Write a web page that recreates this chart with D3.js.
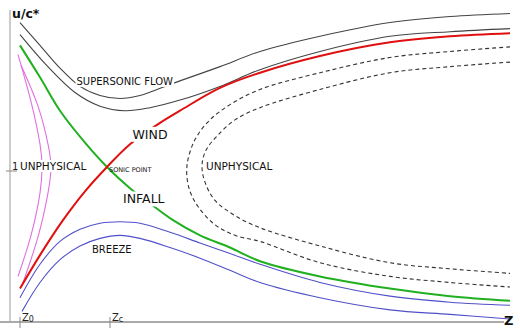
<!DOCTYPE html>
<html><head><meta charset="utf-8">
<script src="https://cdn.jsdelivr.net/npm/d3@7"></script>
<style>body{margin:0;background:#fff}svg{display:block}</style>
</head><body><svg id="c" width="520" height="328"></svg>
<script>
// z (Zc = 2) and u/c* (sonic = 1)
const superOuter = [[0.2,1.97],[0.6,1.82],[1.0,1.67],[1.4,1.55],[1.8,1.49],[2.2,1.47],[2.6,1.49],[3.26,1.57],[4.2,1.68],[5.0,1.78],[6.2,1.88],[7.6,1.97],[8.8,2.01],[10,2.03]];
const superInner = [[0.2,1.89],[0.7,1.70],[1.3,1.51],[1.8,1.42],[2.3,1.39],[2.8,1.41],[3.4,1.46],[4.2,1.55],[5.0,1.66],[6.2,1.78],[7.6,1.88],[8.8,1.91],[10,1.93]];
const wind = [[0.2,0.22],[0.6,0.44],[1.06,0.67],[1.5,0.86],[1.94,1.02],[2.4,1.17],[3.0,1.31],[3.4,1.39],[4.2,1.54],[5.0,1.64],[6.2,1.75],[7.6,1.84],[8.8,1.88],[10,1.90]];
const infall = [[0.2,1.82],[0.6,1.61],[1.0,1.39],[1.5,1.18],[1.94,1.02],[2.4,0.88],[2.8,0.78],[3.26,0.67],[3.8,0.57],[4.4,0.49],[5.0,0.40],[6.2,0.30],[7.6,0.22],[8.8,0.17],[10,0.14]];
const breezeOuter = [[0.2,0.16],[0.6,0.38],[1.0,0.53],[1.4,0.61],[1.8,0.65],[2.2,0.66],[2.6,0.65],[3.2,0.59],[3.8,0.52],[4.4,0.45],[5.0,0.38],[6.2,0.26],[7.6,0.17],[8.8,0.13],[10,0.11]];
const breezeInner = [[0.24,0.07],[0.6,0.26],[1.0,0.41],[1.4,0.50],[1.8,0.55],[2.2,0.57],[2.6,0.55],[3.2,0.49],[3.8,0.42],[4.4,0.34],[5.0,0.26],[6.2,0.16],[7.6,0.08],[8.8,0.05],[10,0.02]];
const unphysLeftOuter = [[0.16,1.76],[0.42,1.45],[0.6,1.17],[0.64,1.02],[0.6,0.85],[0.42,0.57],[0.16,0.30]];
const unphysLeftInner = [[0.22,1.69],[0.56,1.42],[0.76,1.17],[0.82,1.02],[0.76,0.85],[0.56,0.56],[0.24,0.24]];
const unphysRightOuter = [[10,1.81],[8.8,1.78],[7.6,1.74],[6.2,1.64],[5.0,1.53],[4.4,1.43],[4.0,1.33],[3.7,1.20],[3.54,1.03],[3.58,0.88],[3.76,0.76],[4.1,0.64],[4.5,0.57],[5.0,0.53],[6.2,0.39],[7.6,0.30],[8.8,0.26],[10,0.23]];
const unphysRightInner = [[10,1.71],[8.8,1.68],[7.6,1.64],[6.2,1.53],[5.0,1.41],[4.5,1.33],[4.16,1.23],[3.92,1.13],[3.84,1.03],[3.9,0.92],[4.1,0.80],[4.5,0.70],[5.0,0.62],[6.2,0.50],[7.6,0.39],[8.8,0.35],[10,0.32]];
const yTicks = [1];
const xTicks = [["Z","0",0.2],["Z","c",2.0]];
const labels = [
  {t:"SUPERSONIC FLOW", z:3.26, u:1.56, size:10, anchor:"end", bg:true},
  {t:"WIND", z:2.45, u:1.205, size:12.5, anchor:"start", bg:true},
  {t:"INFALL", z:2.26, u:0.78, size:12.5, anchor:"start", bg:true},
  {t:"SONIC POINT", z:1.98, u:0.99, size:6.5, anchor:"start", bg:false},
  {t:"UNPHYSICAL", z:0.2, u:1.0, size:10.5, anchor:"start", bg:true},
  {t:"UNPHYSICAL", z:3.92, u:1.0, size:10.5, anchor:"start", bg:false},
  {t:"BREEZE", z:1.64, u:0.455, size:10, anchor:"start", bg:false}
];

const svg = d3.select("#c");
const x = d3.scaleLinear().domain([0,10]).range([10,510]);
const y = d3.scaleLinear().domain([0,2]).range([322,18]);
const line = d3.line().x(d=>x(d[0])).y(d=>y(d[1])).curve(d3.curveCatmullRom.alpha(0.5));
const arc = d3.line().x(d=>x(d[0])).y(d=>y(d[1])).curve(d3.curveNatural);

const curves = [
  [superOuter,"#444",1.1,null,line],[superInner,"#444",1.1,null,line],
  [unphysRightOuter,"#333",1.1,"4,3",line],[unphysRightInner,"#333",1.1,"4,3",line],
  [breezeOuter,"#5050c8",1.1,null,line],[breezeInner,"#5050c8",1.1,null,line],
  [unphysLeftOuter,"#e070e0",1.1,null,arc],[unphysLeftInner,"#e070e0",1.1,null,arc],
  [infall,"#20b020",2,null,line],[wind,"#e01010",2,null,line]
];
curves.forEach(([d,c,w,dash,gen])=>{
  svg.append("path").attr("d",gen(d)).attr("fill","none").attr("stroke",c)
    .attr("stroke-width",w).attr("stroke-dasharray",dash);
});

// axes
svg.append("line").attr("x1",x(0)).attr("x2",x(0)).attr("y1",10).attr("y2",y(0)).attr("stroke","#999").attr("stroke-width",1);
svg.append("line").attr("x1",0).attr("x2",504).attr("y1",y(0)).attr("y2",y(0)).attr("stroke","#aaa").attr("stroke-width",2);
yTicks.forEach(v=>{
  svg.append("line").attr("x1",x(0)-4).attr("x2",x(0)+7).attr("y1",y(v)+1).attr("y2",y(v)+1).attr("stroke","#888");
  svg.append("text").attr("x",x(0)+2).attr("y",y(v)).attr("font-family","DejaVu Sans").attr("font-size",10).attr("fill","#222").text(v);
});
xTicks.forEach(([a,s,v])=>{
  svg.append("line").attr("x1",x(v)).attr("x2",x(v)).attr("y1",y(0)-5).attr("y2",y(0)+6).attr("stroke","#888");
  const t = svg.append("text").attr("x",x(v)+2).attr("y",y(0)-1).attr("font-family","DejaVu Sans").attr("font-size",10).attr("fill","#222");
  t.append("tspan").text(a);
  t.append("tspan").attr("font-size",8).attr("dy",1).text(s);
});
svg.append("text").attr("x",12).attr("y",18).attr("font-family","DejaVu Sans").attr("font-weight","bold").attr("font-size",12.5).attr("fill","#111").text("u/c*");
svg.append("text").attr("x",504).attr("y",325).attr("font-family","DejaVu Sans").attr("font-weight","bold").attr("font-size",13).attr("fill","#111").text("Z");

labels.forEach(l=>{
  const t = svg.append("text").attr("x",x(l.z)).attr("y",y(l.u)).attr("font-family","DejaVu Sans").attr("font-size",l.size)
    .attr("text-anchor",l.anchor).attr("fill","#111").text(l.t);
  if(l.bg){
    const b = t.node().getBBox();
    svg.insert("rect", function(){return t.node();}).attr("x",b.x-1).attr("y",b.y).attr("width",b.width+2).attr("height",b.height).attr("fill","#fff");
  }
});
</script></body></html>
